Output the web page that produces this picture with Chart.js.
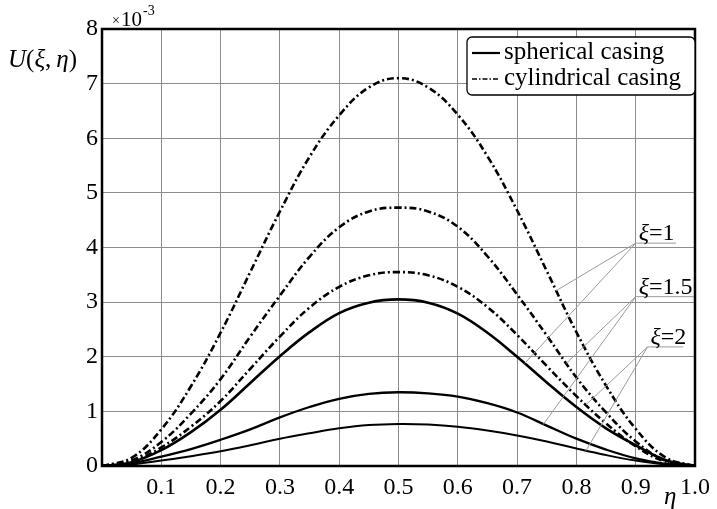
<!DOCTYPE html>
<html>
<head>
<meta charset="utf-8">
<script src="https://cdn.jsdelivr.net/npm/chart.js@4/dist/chart.umd.min.js"></script>
<style>
  html, body { margin: 0; padding: 0; background: #fff; }
</style>
</head>
<body>
<canvas id="lineChart" width="717" height="509"></canvas>
<script>
// eta values (x axis)
const eta = [0, 0.05, 0.1, 0.15, 0.2, 0.25, 0.3, 0.35, 0.4, 0.45, 0.5,
             0.55, 0.6, 0.65, 0.7, 0.75, 0.8, 0.85, 0.9, 0.95, 1.0];

// U(xi, eta) in units of 1e-3
const cylXi1  = [0, 0.15, 0.67, 1.46, 2.44, 3.55, 4.66, 5.66, 6.42, 6.93, 7.10, 6.93, 6.43, 5.67, 4.68, 3.57, 2.45, 1.47, 0.68, 0.16, 0];
const cylXi15 = [0, 0.10, 0.44, 0.96, 1.59, 2.37, 3.12, 3.83, 4.37, 4.66, 4.73, 4.66, 4.38, 3.84, 3.14, 2.39, 1.62, 0.98, 0.45, 0.10, 0];
const cylXi2  = [0, 0.08, 0.34, 0.72, 1.19, 1.78, 2.37, 2.90, 3.28, 3.49, 3.55, 3.49, 3.28, 2.91, 2.40, 1.83, 1.28, 0.78, 0.36, 0.08, 0];
const sphXi1  = [0, 0.07, 0.29, 0.62, 1.03, 1.52, 2.01, 2.45, 2.80, 2.99, 3.05, 2.99, 2.79, 2.44, 2.00, 1.53, 1.08, 0.69, 0.38, 0.11, 0];
const sphXi15 = [0, 0.05, 0.17, 0.31, 0.48, 0.67, 0.89, 1.08, 1.23, 1.32, 1.35, 1.33, 1.27, 1.15, 0.98, 0.74, 0.50, 0.30, 0.14, 0.04, 0];
const sphXi2  = [0, 0.03, 0.10, 0.18, 0.27, 0.38, 0.50, 0.60, 0.69, 0.75, 0.77, 0.76, 0.72, 0.65, 0.56, 0.45, 0.32, 0.20, 0.10, 0.03, 0];

// labels for the xi groups, with underline start/end and leader targets (data coords)
const xiLabels   = ['ξ=1', 'ξ=1.5', 'ξ=2'];
const xiUnderY   = [4.08, 3.10, 2.18];
const xiUnderX0  = [0.900, 0.900, 0.920];
const xiUnderX1  = [0.968, 0.998, 0.980];
const xiLeaders  = [
    [[0.766, 3.21], [0.713, 1.88]],
    [[0.783, 1.88], [0.744, 0.76]],
    [[0.816, 1.12], [0.816, 0.28]]
];

const legendLabels = ['spherical casing', 'cylindrical casing'];

const serif = '"Liberation Serif", "Times New Roman", serif';
const dashDot = [7, 3, 2, 3];

function pts(ys) {
    return eta.map((x, i) => ({ x: x, y: ys[i] }));
}

let datasets = [];

// thin grey leader lines and underlines
xiLabels.forEach((lbl, i) => {
    datasets.push({
        data: [{ x: xiUnderX1[i], y: xiUnderY[i] }, { x: xiUnderX0[i], y: xiUnderY[i] }, { x: xiLeaders[i][0][0], y: xiLeaders[i][0][1] }],
        borderColor: '#9a9a9a', borderWidth: 1, pointRadius: 0, tension: 0
    });
    datasets.push({
        data: [{ x: xiUnderX0[i], y: xiUnderY[i] }, { x: xiLeaders[i][1][0], y: xiLeaders[i][1][1] }],
        borderColor: '#9a9a9a', borderWidth: 1, pointRadius: 0, tension: 0
    });
});

const curves = [
    { ys: cylXi1,  dash: dashDot, w: 2.6 },
    { ys: cylXi15, dash: dashDot, w: 2.6 },
    { ys: cylXi2,  dash: dashDot, w: 2.6 },
    { ys: sphXi1,  dash: [],      w: 2.6 },
    { ys: sphXi15, dash: [],      w: 2.3 },
    { ys: sphXi2,  dash: [],      w: 2.0 }
];
curves.forEach(c => {
    datasets.push({
        data: pts(c.ys),
        borderColor: '#000',
        borderWidth: c.w,
        borderDash: c.dash,
        pointRadius: 0,
        tension: 0.4
    });
});

// extra drawing: frame, legend, xi labels, axis titles
const decor = {
    id: 'decor',
    afterDatasetsDraw(chart) {
        const c = chart.ctx;
        const a = chart.chartArea;
        const xs = chart.scales.x, ys = chart.scales.y;
        c.save();

        // frame
        c.strokeStyle = '#000';
        c.lineWidth = 2.5;
        c.strokeRect(a.left, a.top, a.right - a.left, a.bottom - a.top);

        // xi labels
        c.fillStyle = '#000';
        c.textBaseline = 'alphabetic';
        xiLabels.forEach((lbl, i) => {
            let x = xs.getPixelForValue(xiUnderX0[i]) + 3;
            let y = ys.getPixelForValue(xiUnderY[i]) - 3;
            c.font = 'italic 24px ' + serif;
            c.fillText('ξ', x, y);
            let w = c.measureText('ξ').width;
            c.font = '24px ' + serif;
            c.fillText(lbl.slice(1), x + w, y);
        });

        // legend box
        const bx = 467, by = 37, bw = 228, bh = 58;
        c.beginPath();
        c.roundRect(bx, by, bw, bh, 5);
        c.fillStyle = '#fff';
        c.fill();
        c.lineWidth = 1.3;
        c.strokeStyle = '#000';
        c.stroke();
        c.font = '25px ' + serif;
        c.fillStyle = '#000';
        c.textBaseline = 'middle';
        legendLabels.forEach((t, i) => {
            let ly = by + 15 + i * 26;
            c.beginPath();
            c.setLineDash(i === 0 ? [] : [5, 2, 1.5, 2]);
            c.lineWidth = i === 0 ? 2.2 : 1.6;
            c.moveTo(bx + 5, ly + 1);
            c.lineTo(bx + 33, ly + 1);
            c.stroke();
            c.setLineDash([]);
            c.fillText(t, bx + 37, ly);
        });

        // x10^-3 multiplier
        c.textBaseline = 'alphabetic';
        c.font = '14px ' + serif;
        c.fillText('×', 112, 25);
        c.font = '21px ' + serif;
        c.fillText('10', 121, 26);
        c.font = '14px ' + serif;
        c.fillText('-3', 143, 15);

        // y title U(xi, eta)
        let tx = 8, ty = 67;
        const parts = [['U', true], ['(', false], ['ξ', true], [',', false], ['η', true], [')', false]];
        parts.forEach(p => {
            c.font = (p[1] ? 'italic ' : '') + '25px ' + serif;
            c.fillText(p[0], tx, ty);
            tx += c.measureText(p[0]).width + (p[0] === ',' ? 5 : 0);
        });

        // x title eta
        c.font = 'italic 25px ' + serif;
        c.fillText('η', 664, 504);

        c.restore();
    }
};

let ctx = document.getElementById('lineChart').getContext('2d');

var options = {
    responsive: false,
    maintainAspectRatio: false,
    animation: { duration: 0 },
    layout: { padding: { top: 29, right: 17, left: 0, bottom: 0 } },
    plugins: {
        legend: { display: false },
        tooltip: { enabled: false }
    },
    scales: {
        x: {
            type: 'linear',
            min: 0,
            max: 1,
            afterFit: s => { s.height = 43; },
            ticks: {
                stepSize: 0.1,
                color: '#000',
                padding: 7,
                maxRotation: 0,
                font: { family: serif, size: 24 },
                callback: v => {
                    let r = Math.round(v * 10) / 10;
                    return r === 0 ? '' : r.toFixed(1);
                }
            },
            grid: { color: '#8c8c8c', lineWidth: 1, drawTicks: false },
            border: { display: false }
        },
        y: {
            min: 0,
            max: 8,
            afterFit: s => { s.width = 102; },
            ticks: {
                stepSize: 1,
                color: '#000',
                padding: 4,
                font: { family: serif, size: 24 }
            },
            grid: { color: '#8c8c8c', lineWidth: 1, drawTicks: false },
            border: { display: false }
        }
    }
};

let chart = new Chart(ctx, {
    type: 'line',
    data: { datasets: datasets },
    options: options,
    plugins: [decor]
});
</script>
</body>
</html>
